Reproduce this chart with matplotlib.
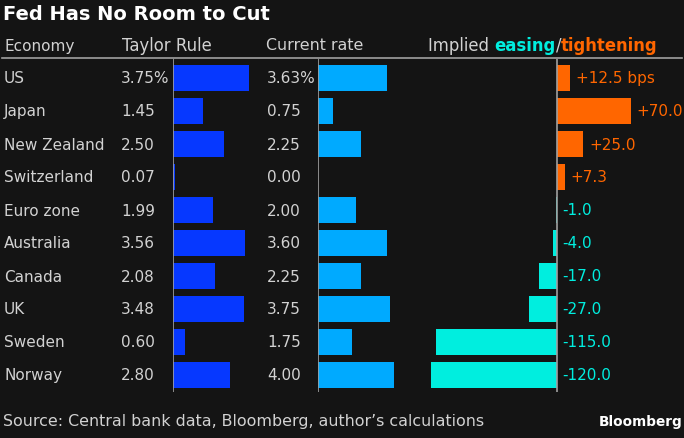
import matplotlib
matplotlib.use("Agg")
import matplotlib.pyplot as plt

countries = ["US", "Japan", "New Zealand", "Switzerland", "Euro zone",
             "Australia", "Canada", "UK", "Sweden", "Norway"]
taylor = [3.75, 1.45, 2.50, 0.07, 1.99, 3.56, 2.08, 3.48, 0.60, 2.80]
current = [3.63, 0.75, 2.25, 0.00, 2.00, 3.60, 2.25, 3.75, 1.75, 4.00]
implied = [12.5, 70.0, 25.0, 7.3, -1.0, -4.0, -17.0, -27.0, -115.0, -120.0]
taylor_labels = ["3.75%", "1.45", "2.50", "0.07", "1.99", "3.56", "2.08", "3.48", "0.60", "2.80"]
current_labels = ["3.63%", "0.75", "2.25", "0.00", "2.00", "3.60", "2.25", "3.75", "1.75", "4.00"]
implied_labels = ["+12.5 bps", "+70.0", "+25.0", "+7.3", "-1.0", "-4.0", "-17.0", "-27.0", "-115.0", "-120.0"]
headers = ["Economy", "Taylor Rule", "Current rate"]

W, H = 684, 439
BG = "#141414"
TXT = "#d2d2d2"
LINE = "#a0a0a0"
BLUE = "#0638ff"
LBLUE = "#00aaff"
TEAL = "#00eedf"
ORANGE = "#ff6600"

plt.rcParams['font.family'] = ['DejaVu Sans']
fig = plt.figure(figsize=(W / 100, H / 100), dpi=100, facecolor=BG)


def fx(px):
    return px / W


def fy(py):
    return 1 - py / H


top, bot = 60, 393
row0, step = 79, 33.0
ymin = -(row0 - top) / step
ymax = ymin + (bot - top) / step
BH = 26 / 33


def make_ax(left, right, zero, ppu):
    ax = fig.add_axes([fx(left), fy(bot), (right - left) / W, (bot - top) / H])
    ax.set_xlim((left - zero) / ppu, (right - zero) / ppu)
    ax.set_ylim(ymax, ymin)
    ax.axis('off')
    ax.patch.set_alpha(0)
    ax.axvline(0, color=LINE, lw=1.2, zorder=3)
    return ax


ys = list(range(len(countries)))

# Taylor rule column
ax1 = make_ax(173.3, 262, 173.3, 20.2)
ax1.barh(ys, taylor, height=BH, color=BLUE, zorder=2)

# Current rate column
ax2 = make_ax(318.3, 405, 318.3, 19.0)
ax2.barh(ys, current, height=BH, color=LBLUE, zorder=2)

# Implied column
ax3 = make_ax(415, 684, 557, 1.05)
cols = [ORANGE if v > 0 else TEAL for v in implied]
ax3.barh(ys, implied, height=BH, color=cols, zorder=2)
for y, v, lab, c in zip(ys, implied, implied_labels, cols):
    xpos = v if v > 0 else 0
    ax3.annotate(lab, (xpos, y), xytext=(6 if v > 0 else 5, 0), textcoords='offset pixels',
                 ha='left', va='center', color=c, fontsize=11)

# Row labels
for i, (c, tl, cl) in enumerate(zip(countries, taylor_labels, current_labels)):
    yy = fy(row0 + step * i)
    fig.text(fx(4), yy, c, ha='left', va='center', color=TXT, fontsize=11)
    fig.text(fx(121), yy, tl, ha='left', va='center', color=TXT, fontsize=11)
    fig.text(fx(267), yy, cl, ha='left', va='center', color=TXT, fontsize=11)

# Title
fig.text(fx(3), fy(14), "Fed Has No Room to Cut", ha='left', va='center',
         color='white', fontsize=14, fontweight='bold')

# Header
hy = fy(46)
fig.text(fx(4), hy, headers[0], ha='left', va='center', color=TXT, fontsize=11)
fig.text(fx(122), hy, headers[1], ha='left', va='center', color=TXT, fontsize=11.9)
fig.text(fx(266), hy, headers[2], ha='left', va='center', color=TXT, fontsize=11.4)

renderer = fig.canvas.get_renderer()
xcur = 428
for s, c, w in [("Implied ", TXT, 'normal'), ("easing", TEAL, 'bold'),
                ("/", TXT, 'normal'), ("tightening", ORANGE, 'bold')]:
    t = fig.text(fx(xcur), hy, s, ha='left', va='center', color=c, fontsize=11.9, fontweight=w)
    bb = t.get_window_extent(renderer)
    xcur += bb.width

# header separator line
fig.add_artist(plt.Line2D([fx(2), fx(682)], [fy(59), fy(59)], color=LINE, lw=1.2))

# Footer
fig.text(fx(3), fy(422), "Source: Central bank data, Bloomberg, author\u2019s calculations",
         ha='left', va='center', color=TXT, fontsize=11.4)
fig.text(fx(682), fy(422), "Bloomberg", ha='right', va='center', color='white',
         fontsize=9.8, fontweight='bold')

fig.savefig("out.png", dpi=100, facecolor=BG)
